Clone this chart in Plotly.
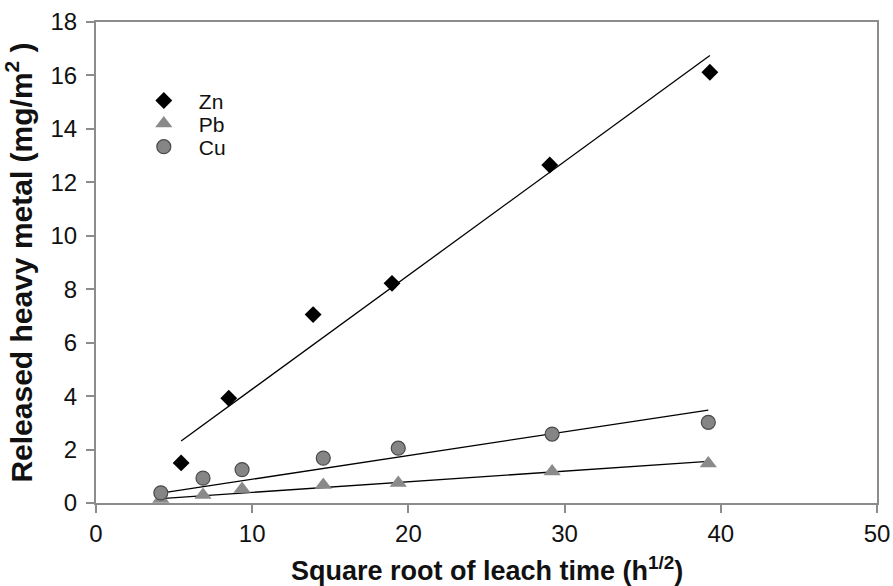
import numpy as np
import plotly.graph_objects as go

# Square root of leach time (h^1/2) and released metal (mg/m2)
zn_x = [5.45, 8.5, 13.9, 18.95, 29.05, 39.3]
zn_y = [1.5, 3.92, 7.05, 8.22, 12.65, 16.12]

cu_pb_x = [4.15, 6.85, 9.35, 14.55, 19.35, 29.2, 39.2]
cu_y = [0.38, 0.93, 1.25, 1.68, 2.05, 2.58, 3.02]
pb_y = [0.15, 0.3, 0.52, 0.67, 0.75, 1.18, 1.48]

x_ticks = [0, 10, 20, 30, 40, 50]
y_ticks = [0, 2, 4, 6, 8, 10, 12, 14, 16, 18]

FONT = "Liberation Sans, Arial"


def fit_origin(x, y):
    """Least-squares line forced through the origin, spanning the data range."""
    x = np.asarray(x, float)
    y = np.asarray(y, float)
    k = float((x * y).sum() / (x * x).sum())
    xs = np.array([x.min(), x.max()])
    return xs, k * xs


fig = go.Figure()

# each series gets its own legend box so the rows can sit tightly stacked
series = [
    ("Zn", zn_x, zn_y, "legend",
     dict(symbol="diamond", size=13, color="black", line=dict(width=0))),
    ("Pb", cu_pb_x, pb_y, "legend2",
     dict(symbol="triangle-up", size=15, color="#8a8a8a", line=dict(width=0))),
    ("Cu", cu_pb_x, cu_y, "legend3",
     dict(symbol="circle", size=14, color="#858585",
          line=dict(width=1.2, color="#4a4a4a"))),
]

# trend lines drawn first so markers sit on top
for name, x, y, _, _ in series:
    lx, ly = fit_origin(x, y)
    fig.add_trace(go.Scatter(x=lx, y=ly, mode="lines", showlegend=False,
                             line=dict(color="black", width=1.3),
                             hoverinfo="skip"))

for name, x, y, leg, mk in series:
    fig.add_trace(go.Scatter(x=x, y=y, mode="markers", name=name, marker=mk,
                             legend=leg))

axis_common = dict(
    showgrid=False, zeroline=False, automargin=False,
    showline=True, linecolor="#8c8c8c", linewidth=2, mirror=True,
    ticks="outside", ticklen=8, tickwidth=1.5, tickcolor="#8c8c8c",
    tickfont=dict(family=FONT, size=24, color="#111"),
)


def legend_box(y):
    return dict(x=0.042, y=y, xanchor="left", yanchor="middle",
                bgcolor="rgba(0,0,0,0)", itemwidth=60,
                font=dict(family=FONT, size=21, color="#111"))


fig.update_layout(
    width=893, height=586,
    margin=dict(l=96, r=16, t=22, b=83),
    paper_bgcolor="white", plot_bgcolor="white",
    xaxis=dict(range=[0, 50], tickvals=x_ticks, **axis_common),
    yaxis=dict(range=[0, 18], tickvals=y_ticks, ticklabelstandoff=4,
               **axis_common,
               title=dict(text="<b>Released heavy metal (mg/m<sup>2</sup> )</b>",
                          font=dict(family=FONT, size=30, color="#111"),
                          standoff=10)),
    legend=legend_box(0.836),
    legend2=legend_box(0.788),
    legend3=legend_box(0.740),
    showlegend=True,
    annotations=[dict(
        text="<b>Square root of leach time (h<sup>1/2</sup>)</b>",
        xref="paper", yref="paper", x=0.5, y=-0.177,
        xanchor="center", yanchor="bottom", showarrow=False,
        font=dict(family=FONT, size=27, color="#111"),
    )],
)

fig.write_html("out.html")
